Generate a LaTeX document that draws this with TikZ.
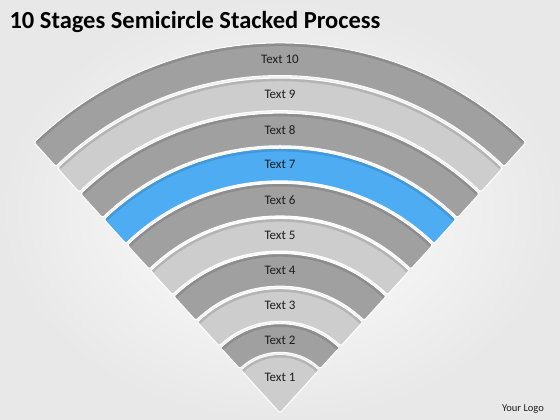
\documentclass[tikz,border=0pt]{standalone}
\usepackage{fontspec}
\setmainfont{Carlito}
\usetikzlibrary{calc}
\definecolor{bandDark}{RGB}{160,160,160}
\definecolor{bandLight}{RGB}{205,205,205}
\definecolor{bandBlue}{RGB}{78,172,243}
\definecolor{labelText}{RGB}{30,30,30}
\tikzset{
  band/.style={draw=white, line width=1pt, rounded corners=1.5pt},
  bandedge/.style={line width=2.4pt, line cap=butt},
  bandlabel/.style={text=labelText, font=\fontsize{13}{15}\selectfont}
}
\begin{document}
\begin{tikzpicture}[x=1pt,y=1pt]
% background
\shade[inner color=white, outer color=black!9] (0,0) rectangle (560,420);
\useasboundingbox (0,0) rectangle (560,420);
\node (title) [anchor=base west, font=\bfseries\fontsize{24.5}{28}\selectfont] at (6,391) {10 Stages Semicircle Stacked Process};
\coordinate (apex) at (280,7);
\begin{scope}[shift={(apex)}, xscale=0.975]
% stage 1 is a wedge
\filldraw[band, fill=bandLight] (0,0) -- (47:58) arc[start angle=47, end angle=133, radius=58] -- cycle;
\draw[bandedge, bandLight!88!black] (48:56.8) arc[start angle=48, end angle=132, radius=56.8];
% stages 2 to 10
\foreach \k/\col in {2/bandDark,3/bandLight,4/bandDark,5/bandLight,6/bandDark,7/bandBlue,8/bandDark,9/bandLight,10/bandDark} {
  \pgfmathsetmacro\Rout{89+(\k-2)*35.1}
  \pgfmathsetmacro\Rin{\k==2 ? 60.5 : \Rout-32.6}
  \pgfmathsetmacro\Redge{\Rout-1.7}
  \filldraw[band, fill=\col] (47:\Rout) arc[start angle=47, end angle=133, radius=\Rout]
    -- (133:\Rin) arc[start angle=133, end angle=47, radius=\Rin] -- cycle;
  \draw[bandedge, \col!88!black] (47.4:\Redge) arc[start angle=47.4, end angle=132.6, radius=\Redge];
}
\end{scope}
% labels
\node (t1) [bandlabel] at ($(apex)+(0,36)$) {Text 1};
\foreach \k in {2,...,10} {
  \pgfmathsetmacro\Rmid{89+(\k-2)*35.1-16.3}
  \node (t\k) [bandlabel] at ($(apex)+(0,\Rmid)$) {Text \k};
}
\node (logo) [font=\fontsize{10.5}{12}\selectfont, text=labelText] at (523,11) {Your Logo};
\end{tikzpicture}
\end{document}
